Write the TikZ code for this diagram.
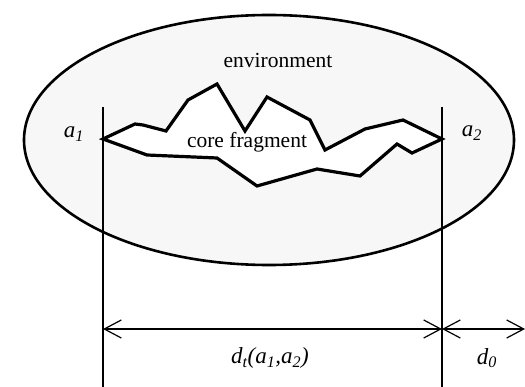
\documentclass[tikz,border=0pt]{standalone}
\usepackage{fontspec}
\setmainfont{Liberation Serif}
\usetikzlibrary{arrows.meta}
\tikzset{
    region/.style={line width=2.6pt, fill=gray!6},
    fragment/.style={line width=3.2pt, fill=white, line join=miter},
    guide/.style={line width=1.2pt},
    dimline/.style={{Straight Barb[length=17pt,width=18pt]}-{Straight Barb[length=17pt,width=18pt]}, line width=1.2pt},
    lbl/.style={font=\fontsize{21.5}{25}\selectfont, inner sep=0pt}
}

\begin{document}
\begin{tikzpicture}[x=1pt, y=-1pt]
    \useasboundingbox (0,0) rectangle (525,387);
    % environment around the fragment
    \draw[region] (269,140) ellipse [x radius=245, y radius=125];
    \node[lbl] (env) at (278,60) {environment};
    % end points of the fragment
    \coordinate (a1) at (103,139);
    \coordinate (a2) at (442,139);
    \draw[fragment] (a1) -- (135,124) -- (143,125) -- (166,131) -- (188,100)
        -- (217,84) -- (245,131) -- (267,97) -- (310,120) -- (325,150)
        -- (365,129) -- (403,120) -- (a2) -- (412,153) -- (397,144)
        -- (360,176) -- (317,169) -- (257,186) -- (217,158) -- (147,155) -- cycle;
    \node[lbl] (core) at (247,142) {core fragment};
    \node[lbl, font=\fontsize{23}{27}\selectfont] (la1) at (74,134) {\textit{a\textsubscript{1}}};
    \node[lbl, font=\fontsize{23}{27}\selectfont] (la2) at (472,133) {\textit{a\textsubscript{2}}};
    % guide lines down to the dimensions
    \coordinate (top1) at (103,107); \coordinate (bot1) at (103,387);
    \coordinate (top2) at (442,107); \coordinate (bot2) at (442,387);
    \draw[guide] (top1) -- (bot1);
    \draw[guide] (top2) -- (bot2);
    \coordinate (d1) at (103,329);
    \coordinate (d2) at (442,329);
    \coordinate (d3) at (525,329);
    \draw[dimline] (d1) -- (d2);
    \draw[dimline] (d2) -- (d3);
    \node[lbl, font=\fontsize{23}{27}\selectfont] (dt) at (270,358) {\textit{d\textsubscript{t}(a\textsubscript{1},a\textsubscript{2})}};
    \node[lbl, font=\fontsize{23}{27}\selectfont] (d0) at (487,358) {\textit{d\textsubscript{0}}};
\end{tikzpicture}
\end{document}
